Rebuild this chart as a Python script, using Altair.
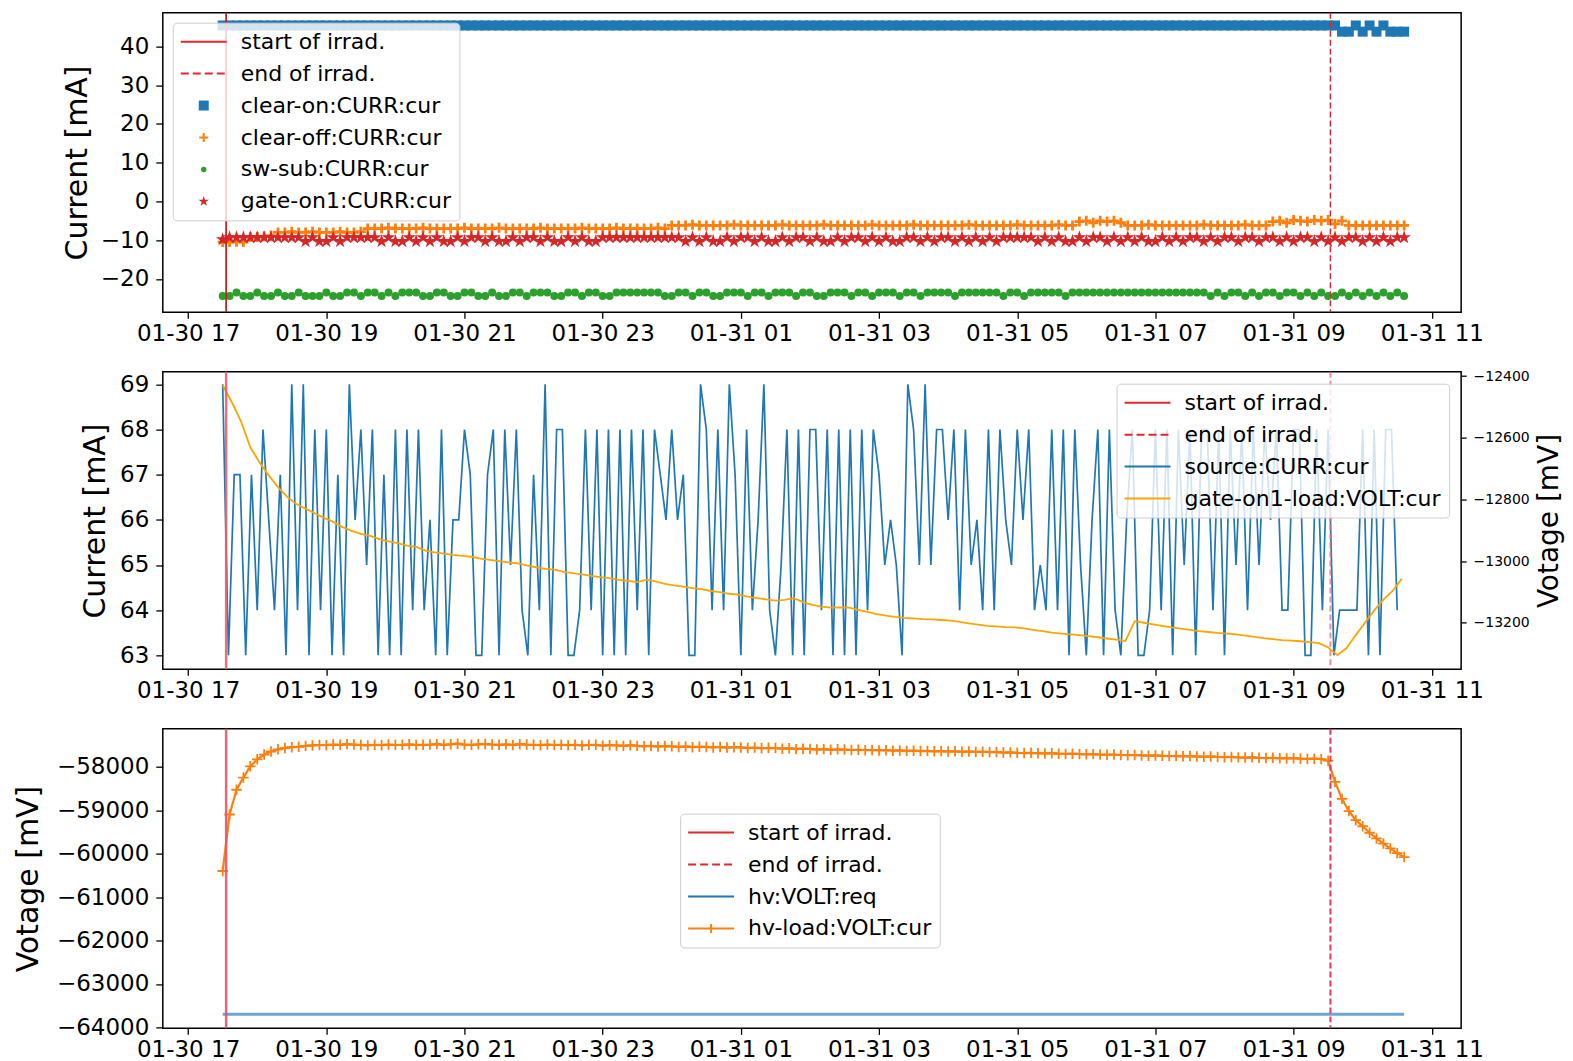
import altair as alt
import pandas as pd

# ------------------------------------------------------------------ data
T_START = "2020-01-30 17:30"          # first sample of every series
IRRAD_START = "2020-01-30T17:33:00"
IRRAD_END = "2020-01-31T09:32:00"

# panel 1 : currents, one sample every 6 minutes
clear_on = [
    45.4, 45.4, 45.4, 45.4, 45.4, 45.4, 45.4, 45.4, 45.4, 45.4,
    45.4, 45.4, 45.4, 45.4, 45.4, 45.4, 45.4, 45.4, 45.4, 45.4,
    45.4, 45.4, 45.4, 45.4, 45.4, 45.4, 45.4, 45.4, 45.4, 45.4,
    45.4, 45.4, 45.4, 45.4, 45.4, 45.4, 45.4, 45.4, 45.4, 45.4,
    45.4, 45.4, 45.4, 45.4, 45.4, 45.4, 45.4, 45.4, 45.4, 45.4,
    45.4, 45.4, 45.4, 45.4, 45.4, 45.4, 45.4, 45.4, 45.4, 45.4,
    45.4, 45.4, 45.4, 45.4, 45.4, 45.4, 45.4, 45.4, 45.4, 45.4,
    45.4, 45.4, 45.4, 45.4, 45.4, 45.4, 45.4, 45.4, 45.4, 45.4,
    45.4, 45.4, 45.4, 45.4, 45.4, 45.4, 45.4, 45.4, 45.4, 45.4,
    45.4, 45.4, 45.4, 45.4, 45.4, 45.4, 45.4, 45.4, 45.4, 45.4,
    45.4, 45.4, 45.4, 45.4, 45.4, 45.4, 45.4, 45.4, 45.4, 45.4,
    45.4, 45.4, 45.4, 45.4, 45.4, 45.4, 45.4, 45.4, 45.4, 45.4,
    45.4, 45.4, 45.4, 45.4, 45.4, 45.4, 45.4, 45.4, 45.4, 45.4,
    45.4, 45.4, 45.4, 45.4, 45.4, 45.4, 45.4, 45.4, 45.4, 45.4,
    45.4, 45.4, 45.4, 45.4, 45.4, 45.4, 45.4, 45.4, 45.4, 45.4,
    45.4, 45.4, 45.4, 45.4, 45.4, 45.4, 45.4, 45.4, 45.4, 45.4,
    45.4, 45.4, 43.8, 43.8, 45.4, 43.8, 45.4, 43.8, 45.4, 43.8,
    43.8, 43.8,
]
clear_off = [
    -10.5, -10.5, -10.4, -10.5, -9.2, -9.2, -9.0, -8.8, -8.0, -8.0,
    -7.8, -8.0, -8.0, -7.8, -8.0, -8.0, -8.0, -7.8, -8.0, -8.0,
    -7.8, -7.0, -7.0, -7.0, -6.8, -7.0, -7.0, -7.0, -7.0, -6.8,
    -7.0, -7.0, -7.0, -7.0, -7.0, -6.8, -7.0, -7.0, -7.0, -7.0,
    -6.8, -7.0, -7.0, -7.0, -7.0, -7.0, -6.8, -7.0, -7.0, -7.0,
    -7.0, -7.0, -6.8, -7.0, -7.0, -7.0, -7.0, -6.8, -7.0, -7.0,
    -7.0, -7.0, -7.0, -6.8, -7.0, -6.2, -6.2, -6.2, -6.0, -6.2,
    -6.2, -6.2, -6.2, -6.2, -6.0, -6.2, -6.2, -6.2, -6.2, -6.2,
    -6.2, -6.0, -6.2, -6.2, -6.2, -6.2, -6.2, -6.0, -6.2, -6.2,
    -6.2, -6.2, -6.2, -6.2, -6.0, -6.2, -6.2, -6.2, -6.2, -6.2,
    -6.0, -6.2, -6.2, -6.2, -6.2, -6.2, -6.2, -6.2, -6.0, -6.2,
    -6.2, -6.2, -6.2, -6.2, -6.2, -6.0, -6.2, -6.2, -6.2, -6.2,
    -6.2, -6.0, -6.2, -6.2, -5.2, -5.0, -5.5, -5.0, -5.2, -5.0,
    -5.5, -6.2, -6.2, -6.2, -6.0, -6.2, -6.2, -6.2, -6.2, -6.2,
    -6.2, -6.2, -6.0, -6.2, -6.2, -6.2, -6.2, -6.2, -6.0, -6.2,
    -6.2, -6.2, -5.2, -5.0, -5.5, -4.8, -5.0, -5.2, -4.8, -5.0,
    -4.8, -5.8, -5.0, -6.2, -6.2, -6.2, -6.2, -6.2, -6.2, -6.2,
    -6.2, -6.2,
]
sw_sub = [
    -24.4, -24.4, -23.5, -24.4, -24.4, -23.5, -24.4, -24.4, -23.5, -24.4,
    -24.4, -23.5, -24.4, -24.4, -24.4, -23.5, -24.4, -24.4, -23.5, -23.5,
    -24.4, -23.5, -23.5, -24.4, -23.5, -24.4, -23.5, -23.5, -23.5, -24.4,
    -24.4, -23.5, -23.5, -24.4, -24.4, -23.5, -23.5, -24.4, -24.4, -23.5,
    -24.4, -24.4, -23.5, -23.5, -24.4, -23.5, -23.5, -23.5, -24.4, -24.4,
    -23.5, -23.5, -24.4, -23.5, -23.5, -24.4, -24.4, -23.5, -23.5, -23.5,
    -23.5, -23.5, -23.5, -23.5, -24.4, -24.4, -23.5, -23.5, -24.4, -23.5,
    -23.5, -24.4, -24.4, -23.5, -23.5, -23.5, -24.4, -23.5, -23.5, -24.4,
    -23.5, -23.5, -23.5, -24.4, -23.5, -23.5, -24.4, -24.4, -23.5, -23.5,
    -23.5, -24.4, -23.5, -23.5, -24.4, -23.5, -23.5, -23.5, -24.4, -23.5,
    -23.5, -24.4, -23.5, -23.5, -23.5, -23.5, -24.4, -23.5, -23.5, -23.5,
    -23.5, -23.5, -23.5, -24.4, -23.5, -23.5, -24.4, -23.5, -23.5, -23.5,
    -23.5, -23.5, -24.4, -23.5, -23.5, -23.5, -23.5, -23.5, -23.5, -23.5,
    -23.5, -23.5, -23.5, -23.5, -23.5, -23.5, -23.5, -23.5, -23.5, -23.5,
    -23.5, -23.5, -23.5, -24.4, -23.5, -24.4, -23.5, -23.5, -24.4, -23.5,
    -24.4, -23.5, -23.5, -24.4, -23.5, -23.5, -24.4, -23.5, -24.4, -23.5,
    -24.4, -24.4, -23.5, -24.4, -23.5, -24.4, -23.5, -24.4, -23.5, -24.4,
    -23.5, -24.4,
]
gate_on1 = [
    -9.8, -9.3, -9.3, -9.3, -9.3, -9.3, -9.3, -9.3, -9.3, -9.3,
    -9.3, -9.3, -10.3, -9.3, -10.3, -10.3, -9.3, -10.3, -9.3, -9.3,
    -9.3, -9.3, -9.3, -10.3, -9.3, -10.3, -10.3, -9.3, -10.3, -9.3,
    -10.3, -9.3, -10.3, -10.3, -9.3, -10.3, -9.3, -9.3, -10.3, -9.3,
    -10.3, -10.3, -9.3, -10.3, -9.3, -9.3, -10.3, -9.3, -10.3, -10.3,
    -9.3, -10.3, -9.3, -10.3, -10.3, -9.3, -9.3, -9.3, -9.3, -9.3,
    -9.3, -9.3, -9.3, -9.3, -9.3, -9.3, -9.3, -10.3, -9.3, -10.3,
    -9.3, -10.3, -10.3, -9.3, -10.3, -9.3, -9.3, -10.3, -9.3, -10.3,
    -10.3, -9.3, -10.3, -9.3, -9.3, -10.3, -9.3, -10.3, -10.3, -9.3,
    -10.3, -9.3, -9.3, -10.3, -9.3, -10.3, -9.3, -10.3, -10.3, -9.3,
    -9.3, -10.3, -9.3, -10.3, -9.3, -9.3, -10.3, -9.3, -10.3, -9.3,
    -10.3, -9.3, -10.3, -9.3, -9.3, -9.3, -9.3, -9.3, -10.3, -9.3,
    -10.3, -9.3, -10.3, -10.3, -9.3, -10.3, -9.3, -9.3, -10.3, -9.3,
    -10.3, -9.3, -10.3, -9.3, -10.3, -10.3, -9.3, -10.3, -9.3, -10.3,
    -9.3, -9.3, -10.3, -9.3, -10.3, -9.3, -9.3, -10.3, -9.3, -9.3,
    -10.3, -9.3, -9.3, -10.3, -9.3, -10.3, -9.3, -9.3, -10.3, -9.3,
    -10.3, -9.3, -10.3, -9.3, -9.3, -10.3, -9.3, -10.3, -9.3, -10.3,
    -9.3, -9.3,
]

# panel 2 : source current (one sample every 5 minutes)
source_curr = [
    69, 63, 67, 67, 63, 67, 64, 68, 66, 64,
    67, 63, 69, 64, 69, 63, 68, 64, 68, 63,
    67, 63, 69, 66, 68, 65, 68, 63, 67, 63,
    68, 63, 68, 64, 68, 64, 66, 63, 68, 63,
    66, 66, 68, 67, 63, 63, 67, 68, 63, 68,
    65, 68, 64, 63, 67, 64, 69, 63, 68, 68,
    63, 63, 64, 68, 64, 68, 63, 68, 63, 68,
    63, 68, 64, 68, 63, 68, 67, 66, 68, 66,
    67, 63, 63, 69, 68, 64, 68, 64, 69, 67,
    63, 68, 64, 66, 69, 64, 63, 65, 68, 63,
    68, 63, 68, 68, 64, 68, 63, 68, 63, 68,
    63, 68, 64, 68, 67, 65, 66, 65, 63, 69,
    68, 65, 69, 65, 68, 68, 66, 68, 64, 68,
    65, 66, 64, 68, 64, 68, 66, 65, 68, 66,
    68, 64, 65, 64, 68, 64, 68, 63, 68, 65,
    63, 66, 68, 63, 68, 64, 63, 66, 68, 63,
    63, 64, 68, 64, 68, 63, 68, 65, 68, 63,
    68, 68, 64, 68, 63, 68, 65, 68, 64, 68,
    65, 68, 66, 68, 64, 64, 68, 68, 63, 63,
    68, 64, 68, 63, 64, 64, 64, 64, 68, 63,
    68, 63, 68, 68, 64,
]
# panel 2 : gate-on1-load voltage (one sample every 8 minutes)
gate_load_volt = [
    -12430, -12485, -12548, -12631, -12680, -12722, -12760, -12792, -12815, -12830,
    -12845, -12860, -12873, -12890, -12902, -12912, -12918, -12929, -12936, -12942,
    -12950, -12954, -12966, -12972, -12976, -12980, -12983, -12986, -12992, -12996,
    -13000, -13004, -13007, -13014, -13020, -13025, -13028, -13035, -13039, -13043,
    -13048, -13052, -13055, -13061, -13064, -13068, -13060, -13066, -13074, -13079,
    -13083, -13088, -13091, -13097, -13101, -13106, -13109, -13115, -13120, -13124,
    -13128, -13126, -13120, -13133, -13142, -13148, -13151, -13150, -13151, -13158,
    -13165, -13172, -13177, -13181, -13184, -13186, -13188, -13189, -13191, -13193,
    -13197, -13202, -13206, -13210, -13212, -13214, -13215, -13218, -13223, -13227,
    -13232, -13235, -13238, -13240, -13243, -13247, -13251, -13255, -13259, -13195,
    -13200, -13205, -13210, -13215, -13219, -13223, -13227, -13230, -13233, -13235,
    -13238, -13242, -13246, -13250, -13253, -13256, -13258, -13260, -13263, -13266,
    -13280, -13305, -13282, -13240, -13200, -13160, -13125, -13097, -13057,
]

# panel 3 : voltages (one sample every 6 minutes)
hv_load = [
    -60400, -59100, -58530, -58250, -57990, -57830, -57720, -57650, -57600, -57570,
    -57550, -57540, -57520, -57510, -57500, -57505, -57490, -57495, -57480, -57490,
    -57500, -57510, -57495, -57505, -57490, -57500, -57495, -57485, -57500, -57495,
    -57490, -57480, -57495, -57485, -57470, -57490, -57495, -57485, -57475, -57490,
    -57495, -57485, -57500, -57480, -57490, -57495, -57505, -57490, -57500, -57495,
    -57505, -57495, -57510, -57500, -57495, -57515, -57505, -57510, -57520, -57505,
    -57520, -57530, -57520, -57535, -57525, -57530, -57545, -57535, -57550, -57540,
    -57545, -57555, -57545, -57560, -57550, -57555, -57570, -57560, -57575, -57565,
    -57570, -57585, -57575, -57595, -57585, -57590, -57605, -57595, -57610, -57600,
    -57605, -57615, -57610, -57620, -57615, -57625, -57620, -57630, -57625, -57635,
    -57630, -57640, -57635, -57645, -57640, -57650, -57645, -57655, -57650, -57660,
    -57655, -57665, -57660, -57675, -57670, -57680, -57685, -57680, -57690, -57695,
    -57690, -57700, -57705, -57700, -57710, -57715, -57710, -57720, -57725, -57720,
    -57730, -57735, -57730, -57740, -57745, -57740, -57750, -57755, -57750, -57760,
    -57755, -57765, -57770, -57765, -57775, -57780, -57775, -57785, -57790, -57785,
    -57795, -57800, -57795, -57805, -57810, -57805, -57815, -57820, -57815, -57825,
    -57860, -58350, -58740, -59020, -59230, -59370, -59520, -59650, -59770, -59880,
    -59990, -60080,
]
hv_req_times = ["2020-01-30T17:30:00", "2020-01-31T10:36:00"]
hv_req = [-63700, -63700]

legend1_labels = ["start of irrad.", "end of irrad.", "clear-on:CURR:cur",
                  "clear-off:CURR:cur", "sw-sub:CURR:cur", "gate-on1:CURR:cur"]
legend2_labels = ["start of irrad.", "end of irrad.", "source:CURR:cur",
                  "gate-on1-load:VOLT:cur"]
legend3_labels = ["start of irrad.", "end of irrad.", "hv:VOLT:req", "hv-load:VOLT:cur"]

x_tick_times = [
    (30, 17), (30, 19), (30, 21), (30, 23), (31, 1),
    (31, 3), (31, 5), (31, 7), (31, 9), (31, 11),
]

# ------------------------------------------------------------------ style
FONT = "DejaVu Sans"
BLUE, ORANGE, GREEN, RED = "#1f77b4", "#ff7f0e", "#2ca02c", "#d62728"
GOLD = "#ffa500"
IRR_RED = "#e3262e"

PLUS = "M-1,0H1M0,-1V1"
STAR = ("M0,-1L0.224,-0.309L0.951,-0.309L0.363,0.118L0.588,0.809L0,0.382"
        "L-0.588,0.809L-0.363,0.118L-0.951,-0.309L-0.224,-0.309Z")
# legend glyphs: 1 unit = 10 px, symbol centre sits 11 px from the entry's left edge
L_LINE = "M-1.1,0H3.5"
L_DASH = "M-1.1,0H-0.3M0.1,0H0.9M1.3,0H2.1M2.5,0H3.3"
L_SQUARE = "M0.7,-0.5H1.7V0.5H0.7Z"
L_PLUS = "M0.75,0H1.65M1.2,-0.45V0.45"
L_DOT = "M0.92,0A0.28,0.28,0,1,0,1.48,0A0.28,0.28,0,1,0,0.92,0Z"
L_STAR = ("M1.2,-0.55L1.323,-0.17L1.723,-0.17L1.4,0.065L1.523,0.445L1.2,0.21"
          "L0.877,0.445L1.0,0.065L0.677,-0.17L1.077,-0.17Z")
L_LINEPLUS = "M-1.1,0H3.5M1.2,-0.45V0.45"

W = 1300

xscale = alt.Scale(
    domain=[alt.DateTime(year=2020, month=1, date=30, hours=16, minutes=38),
            alt.DateTime(year=2020, month=1, date=31, hours=11, minutes=25, seconds=30)],
    nice=False,
)
xaxis = alt.Axis(
    values=[alt.DateTime(year=2020, month=1, date=d, hours=h) for d, h in x_tick_times],
    format="%m-%d %H", formatType="time", labelFontSize=23, tickSize=6,
    labelPadding=4, labelFlush=False, labelOverlap=False, title=None,
    grid=False, domain=False,
)


def X(field="t"):
    return alt.X(f"{field}:T", scale=xscale, axis=xaxis, title=None)


def Y(domain, values, title, tpad, fmt=None, orient="left", lsize=23, tsize=7, lpad=7,
      tsz=30, **kw):
    ak = dict(values=values, title=title, labelFontSize=lsize, tickSize=tsize,
              labelPadding=lpad, titleFontSize=tsz, titlePadding=tpad, orient=orient,
              grid=False, domain=False, labelFlush=False)
    if fmt:
        ak["format"] = fmt
    ak.update(kw)
    return alt.Y("v:Q", scale=alt.Scale(domain=domain, nice=False, zero=False),
                 axis=alt.Axis(**ak))


def series(values, freq):
    return pd.DataFrame({"t": pd.date_range(T_START, periods=len(values), freq=freq),
                         "v": values})


def rule(time, color, width, dash=None, opacity=1.0):
    kw = dict(color=color, strokeWidth=width, opacity=opacity)
    if dash:
        kw["strokeDash"] = dash
    return alt.Chart(pd.DataFrame({"t": [time]})).mark_rule(**kw).encode(x=X())


def legend_layer(labels, fills, strokes, shapes, **legkw):
    leg = alt.Legend(title=None, **legkw)
    df = pd.DataFrame({"label": labels})
    return alt.Chart(df).mark_point(filled=True, opacity=1, strokeWidth=2).encode(
        fill=alt.Fill("label:N", scale=alt.Scale(domain=labels, range=fills), legend=leg),
        stroke=alt.Stroke("label:N", scale=alt.Scale(domain=labels, range=strokes), legend=leg),
        shape=alt.Shape("label:N", scale=alt.Scale(domain=labels, range=shapes), legend=leg),
    ).transform_filter("false")


# ------------------------------------------------------------------ panel 1
y1 = Y([-28.6, 48.7], [-20, -10, 0, 10, 20, 30, 40], "Current [mA]", 8)
p1 = alt.layer(
    alt.Chart(series(clear_on, "6min")).mark_point(
        shape="square", filled=True, size=100, color=BLUE, opacity=1).encode(x=X(), y=y1),
    alt.Chart(series(clear_off, "6min")).mark_point(
        shape=PLUS, filled=False, size=100, color=ORANGE, strokeWidth=2.8, opacity=1).encode(x=X(), y=y1),
    alt.Chart(series(sw_sub, "6min")).mark_point(
        shape="circle", filled=True, size=64, color=GREEN, opacity=1).encode(x=X(), y=y1),
    alt.Chart(series(gate_on1, "6min")).mark_point(
        shape=STAR, filled=True, size=210, color=RED, opacity=1).encode(x=X(), y=y1),
    rule(IRRAD_START, "#cc1f1f", 1.8),
    rule(IRRAD_END, "#d42a34", 1.5, [6, 3]),
    legend_layer(
        legend1_labels,
        ["transparent", "transparent", BLUE, "transparent", GREEN, RED],
        [IRR_RED, IRR_RED, "transparent", ORANGE, "transparent", "transparent"],
        [L_LINE, L_DASH, L_SQUARE, L_PLUS, L_DOT, L_STAR],
        orient="top-left", offset=10,
    ),
).properties(width=W, height=300)

# ------------------------------------------------------------------ panel 2
y2l = Y([62.69, 69.28], [63, 64, 65, 66, 67, 68, 69], "Current [mA]", 9)
y2r = Y([-13351, -12386], [-13200, -13000, -12800, -12600, -12400], "Votage [mV]", 6,
        fmt="d", orient="right", lsize=14, tsize=5, lpad=7, tsz=28,
        titleAngle=270, titleBaseline="top")
p2 = alt.layer(
    alt.Chart(series(source_curr, "5min")).mark_line(
        color=BLUE, strokeWidth=1.7).encode(x=X(), y=y2l),
    alt.Chart(series(gate_load_volt, "8min")).mark_line(
        color=GOLD, strokeWidth=1.8).encode(x=X(), y=y2r),
    rule(IRRAD_START, "#e8606a", 2.5, opacity=0.9),
    rule(IRRAD_END, "#ef6a7c", 2, [6, 3], opacity=0.75),
    legend_layer(
        legend2_labels,
        ["transparent"] * 4,
        [IRR_RED, IRR_RED, BLUE, GOLD],
        [L_LINE, L_DASH, L_LINE, L_LINE],
        orient="top-right", offset=12,
    ),
).resolve_scale(y="independent").properties(width=W, height=298)

# ------------------------------------------------------------------ panel 3
y3 = Y([-64023, -57126], [-64000, -63000, -62000, -61000, -60000, -59000, -58000],
       "Votage [mV]", 13, fmt="d")
req_df = pd.DataFrame({"t": pd.to_datetime(hv_req_times), "v": hv_req})
p3 = alt.layer(
    alt.Chart(req_df).mark_line(color=BLUE, strokeWidth=3, opacity=0.65).encode(x=X(), y=y3),
    alt.Chart(series(hv_load, "6min")).mark_line(
        color=ORANGE, strokeWidth=2.2).encode(x=X(), y=y3),
    alt.Chart(series(hv_load, "6min")).mark_point(
        shape=PLUS, filled=False, size=110, color=ORANGE, strokeWidth=1.8, opacity=1).encode(x=X(), y=y3),
    rule(IRRAD_START, "#e0566a", 2.5, opacity=0.9),
    rule(IRRAD_END, "#e63a55", 2, [6, 3]),
    legend_layer(
        legend3_labels,
        ["transparent"] * 4,
        [IRR_RED, IRR_RED, BLUE, ORANGE],
        [L_LINE, L_DASH, L_LINE, L_LINEPLUS],
        orient="none", legendX=518, legendY=85,
    ),
).properties(width=W, height=300)

# ------------------------------------------------------------------ assemble
chart = alt.vconcat(p1, p2, p3, spacing=59.5, bounds="flush").resolve_scale(
    fill="independent", stroke="independent", shape="independent"
).properties(
    padding={"left": 4, "top": 2, "right": 0, "bottom": 0},
    background="white",
).configure_view(
    stroke="black", strokeWidth=1.5
).configure_axis(
    labelFont=FONT, titleFont=FONT, labelColor="black", titleColor="black",
    tickColor="black", tickWidth=1.3, titleFontWeight="normal",
).configure_legend(
    labelFont=FONT, labelFontSize=22, labelColor="black", labelLimit=500,
    symbolSize=400, symbolStrokeWidth=2, rowPadding=10, padding=8,
    fillColor="rgba(255,255,255,0.8)", strokeColor="#cccccc", strokeWidth=1,
    cornerRadius=4, labelOffset=38,
)

chart.save("out.html", embed_options={"renderer": "svg", "actions": False})
